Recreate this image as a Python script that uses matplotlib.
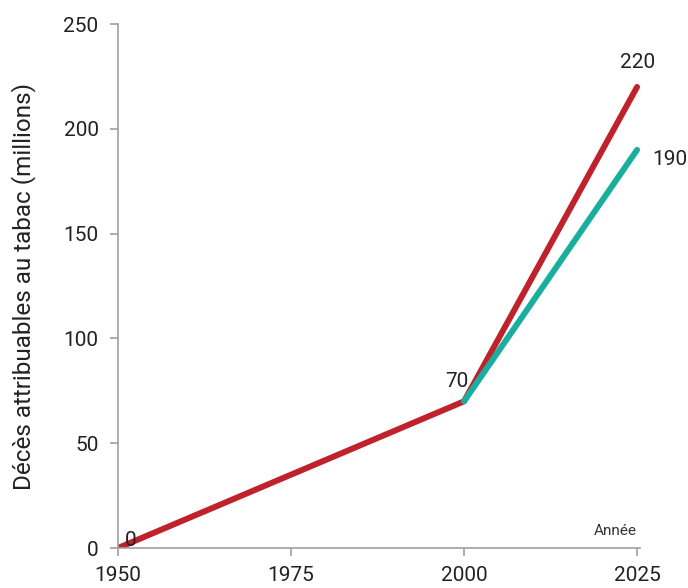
import matplotlib.pyplot as plt

# Données
annees_rouge = [1950, 2000, 2025]
deces_rouge = [0, 70, 220]
annees_vert = [2000, 2025]
deces_vert = [70, 190]

rouge = "#C0222B"
vert = "#1AAE9F"
gris = "#A0A0A0"
texte = "#222222"

plt.rcParams["font.family"] = ["Roboto", "DejaVu Sans"]

fig = plt.figure(figsize=(6.88, 5.88), dpi=100)
ax = fig.add_axes([0.1715, 0.068, 0.7585, 0.891])

ax.plot(annees_rouge, deces_rouge, color=rouge, lw=4.3, solid_capstyle="round", zorder=2)
ax.plot(annees_vert, deces_vert, color=vert, lw=4.3, solid_capstyle="round", zorder=3)

# Étiquettes des valeurs
ax.text(1951.0, 1, "0", fontsize=15, color=texte)
ax.text(1997.3, 77, "70", fontsize=15, color=texte)
ax.text(2025, 229, "220", fontsize=15, color=texte, ha="center")
ax.text(2029.8, 183, "190", fontsize=15, color=texte, ha="center")

ax.text(2025, 6, "Année", fontsize=11, color="#333333", ha="right")

ax.set_xlim(1950, 2025.4)
ax.set_ylim(0, 250)
ax.set_xticks([1950, 1975, 2000, 2025])
ax.set_yticks([0, 50, 100, 150, 200, 250])
ax.set_ylabel("Décès attribuables au tabac (millions)", fontsize=17.5, color=texte, labelpad=20)

for s in ["top", "right"]:
    ax.spines[s].set_visible(False)
for s in ["left", "bottom"]:
    ax.spines[s].set_color(gris)
    ax.spines[s].set_linewidth(1.2)
ax.tick_params(colors=gris, labelcolor=texte, labelsize=15, length=6, width=1.2)
ax.tick_params(axis="x", pad=7)
ax.tick_params(axis="y", pad=8)

fig.savefig("out.png", dpi=100)
